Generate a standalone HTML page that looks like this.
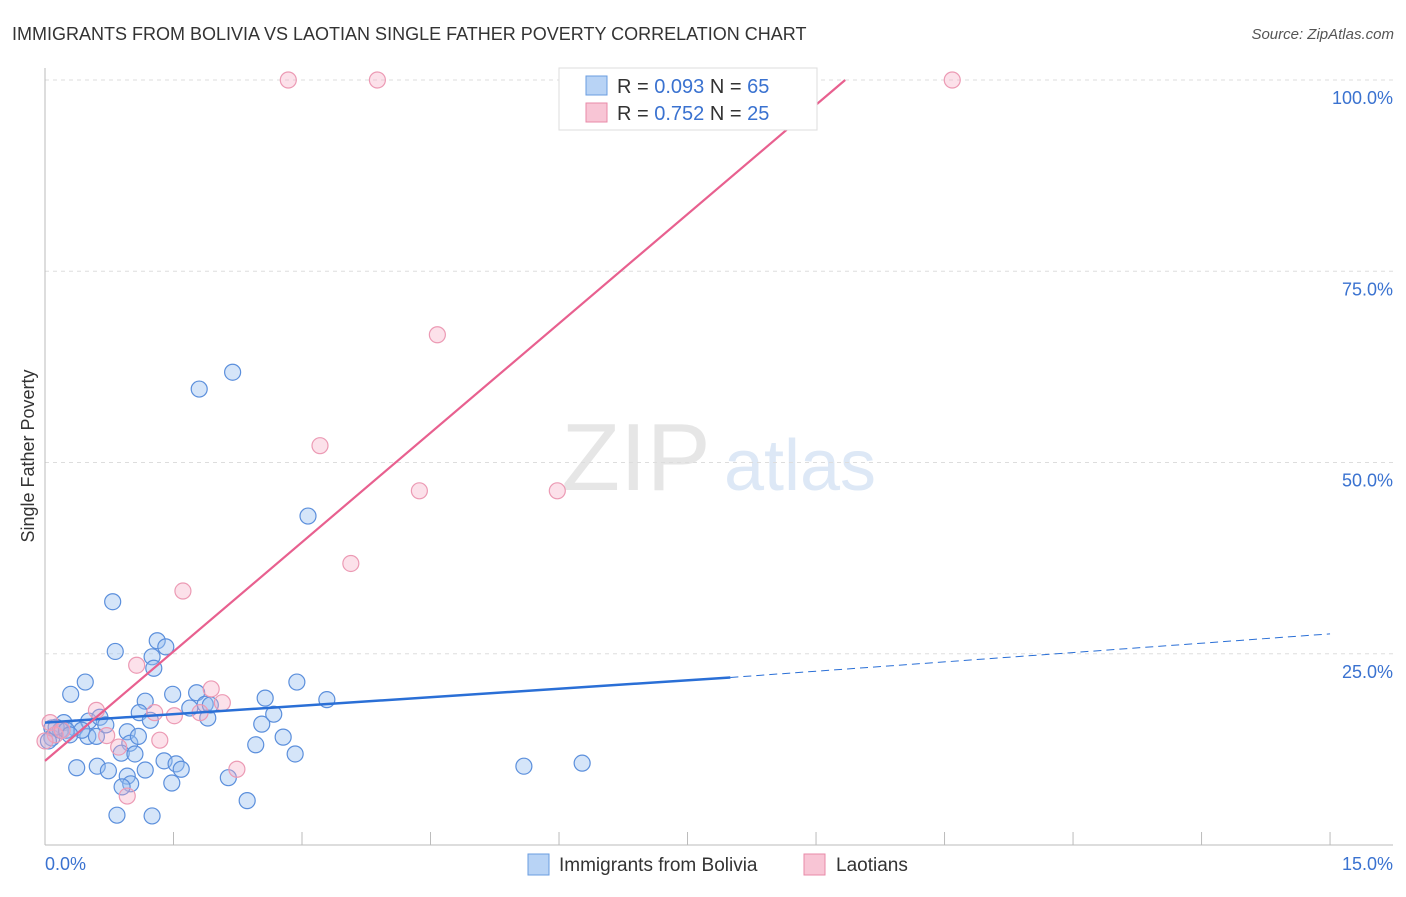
<!DOCTYPE html>
<html><head><meta charset="utf-8"><style>
body{margin:0;background:#fff;font-family:"Liberation Sans",sans-serif;}
svg text{font-family:"Liberation Sans",sans-serif;}
</style></head><body>
<svg id="c" width="1406" height="892">
<text x="12" y="40" font-size="18" fill="#333">IMMIGRANTS FROM BOLIVIA VS LAOTIAN SINGLE FATHER POVERTY CORRELATION CHART</text>
<text x="1394" y="39" font-size="15" fill="#555" text-anchor="end" font-style="italic">Source: ZipAtlas.com</text>
<text x="34" y="456" font-size="18" fill="#333" text-anchor="middle" transform="rotate(-90 34 456)">Single Father Poverty</text>
<g><text x="636" y="490" font-size="96" fill="#e6e6e6" text-anchor="middle" font-family="Liberation Serif">ZIP</text><text x="800" y="490" font-size="72" fill="#dde8f6" text-anchor="middle">atlas</text></g>
<g id="grid"></g><g id="marks"></g>
<g>
<rect x="559" y="68" width="258" height="62" fill="#fff" stroke="#ddd"/>
<rect x="586" y="76" width="21" height="19" fill="#b8d3f5" stroke="#6a9de0"/>
<rect x="586" y="103" width="21" height="19" fill="#f8c5d5" stroke="#e88aa8"/>
<text x="617" y="93" font-size="20" fill="#333">R = <tspan fill="#3a72d0">0.093</tspan>   N = <tspan fill="#3a72d0">65</tspan></text>
<text x="617" y="120" font-size="20" fill="#333">R =  <tspan fill="#3a72d0">0.752</tspan>   N = <tspan fill="#3a72d0">25</tspan></text>
</g>
<g>
<rect x="528" y="854" width="21" height="21" fill="#b8d3f5" stroke="#6a9de0"/>
<text x="559" y="871" font-size="19" fill="#333">Immigrants from Bolivia</text>
<rect x="804" y="854" width="21" height="21" fill="#f8c5d5" stroke="#e88aa8"/>
<text x="836" y="871" font-size="19" fill="#333">Laotians</text>
</g>
</svg>
<script>
const yTicks=[25,50,75,100];
const yTickLabels=["25.0%","50.0%","75.0%","100.0%"];
const xTickLabels=["0.0%","15.0%"];
const blueX=[0.79,0.82,1.31,1.41,1.25,1.27,0.47,0.30,1.17,1.49,1.77,1.87,1.69,1.90,1.10,0.08,0.22,0.35,0.51,0.64,0.50,0.60,0.96,0.99,1.09,0.89,1.05,0.37,0.61,0.74,1.17,1.39,1.53,1.59,0.96,1.00,0.90,1.48,0.84,1.25,2.14,2.36,2.46,2.53,2.57,2.67,2.78,2.92,2.94,3.29,3.07,1.80,2.19,5.59,6.27,0.08,0.18,0.04,0.13,0.25,0.71,0.43,0.29,1.23,1.93];
const blueY=[31.8,25.3,26.7,25.9,24.6,23.1,21.3,19.7,18.8,19.7,19.9,18.4,17.9,16.6,17.3,15.3,16.0,15.3,16.2,16.7,14.2,14.2,14.8,13.3,14.2,12.0,11.9,10.1,10.3,9.7,9.8,11.0,10.6,9.9,9.0,8.0,7.6,8.1,3.9,3.8,8.8,5.8,13.1,15.8,19.2,17.1,14.1,11.9,21.3,19.0,43.0,59.6,61.8,10.3,10.7,14.0,15.0,13.6,15.4,15.0,15.7,15.0,14.4,16.3,18.3];
const pinkX=[2.84,3.88,10.59,4.58,3.21,4.37,5.98,3.57,1.61,1.07,1.94,2.07,1.51,1.28,1.81,0.60,0.72,0.86,1.34,2.24,0.96,0.06,0.12,0.20,0.0];
const pinkY=[100,100,100,66.7,52.2,46.3,46.3,36.8,33.2,23.5,20.4,18.6,16.9,17.3,17.3,17.6,14.3,12.8,13.7,9.9,6.4,16.0,14.4,15.0,13.6];
const blueLine=[[0,16.0],[8.0,21.9],[15.0,27.6]];
const pinkLine=[[0,11.0],[9.34,100]];
const sx=v=>45+v*85.67, sy=v=>845-v*7.65;
const NS="http://www.w3.org/2000/svg";
const g=document.getElementById('grid'), m=document.getElementById('marks');
function mk(tag,attrs,parent){const e=document.createElementNS(NS,tag);for(const k in attrs)e.setAttribute(k,attrs[k]);parent.appendChild(e);return e;}
yTicks.forEach((t,i)=>{
  const l=mk('line',{x1:45,x2:1393,y1:sy(t),y2:sy(t),stroke:'#ddd','stroke-dasharray':'4,4'},g);
  
  
  const tx=mk('text',{x:1393,y:sy(t)+24,'font-size':18,fill:'#3a72d0','text-anchor':'end'},g);
  tx.textContent=yTickLabels[i];
  
  
});
const ax=mk('line',{x1:45,x2:45,y1:68,y2:845,stroke:'#bbb'},g);


const bx=mk('line',{x1:45,x2:1393,y1:845,y2:845,stroke:'#bbb'},g);


for(let i=0;i<=10;i++){const t=mk('line',{x1:sx(i*1.5),x2:sx(i*1.5),y1:832,y2:845,stroke:'#bbb'},g);

}
[[0,'start',45],[15,'end',1393]].forEach((d,i)=>{const t=mk('text',{x:d[2],y:870,'font-size':18,fill:'#3a72d0','text-anchor':d[1]},g);t.textContent=xTickLabels[i];

});
blueX.forEach((x,i)=>{const c=mk('circle',{cx:sx(x),cy:sy(blueY[i]),r:8,fill:'rgba(150,190,240,0.4)',stroke:'#5b8fdc','stroke-width':1.2},m);

});
pinkX.forEach((x,i)=>{const c=mk('circle',{cx:sx(x),cy:sy(pinkY[i]),r:8,fill:'rgba(245,170,195,0.35)',stroke:'#ec9ab4','stroke-width':1.2},m);

});
const b1=mk('line',{x1:sx(blueLine[0][0]),y1:sy(blueLine[0][1]),x2:sx(blueLine[1][0]),y2:sy(blueLine[1][1]),stroke:'#2a6fd6','stroke-width':2.5},m);


const b2=mk('line',{x1:sx(blueLine[1][0]),y1:sy(blueLine[1][1]),x2:sx(blueLine[2][0]),y2:sy(blueLine[2][1]),stroke:'#2a6fd6','stroke-width':1,'stroke-dasharray':'8,5'},m);


const p1=mk('line',{x1:sx(pinkLine[0][0]),y1:sy(pinkLine[0][1]),x2:sx(pinkLine[1][0]),y2:sy(pinkLine[1][1]),stroke:'#e8608f','stroke-width':2.2},m);


</script>
</body></html>
